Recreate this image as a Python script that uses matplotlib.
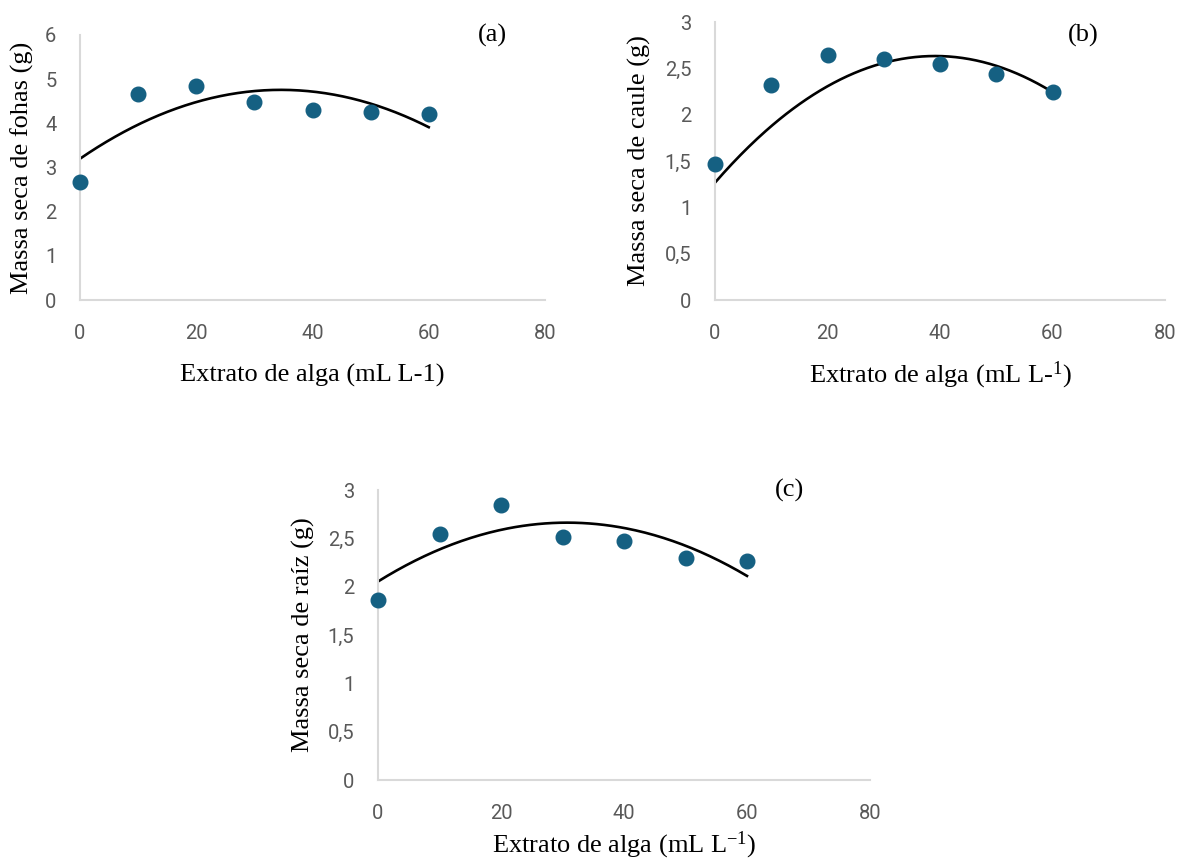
import numpy as np
import matplotlib.pyplot as plt
from matplotlib.ticker import FuncFormatter, MultipleLocator

plt.rcParams['mathtext.fontset'] = 'custom'
plt.rcParams['mathtext.rm'] = 'Liberation Serif'
plt.rcParams['mathtext.it'] = 'Liberation Serif:italic'

# doses of seaweed extract
extrato = [0, 10, 20, 30, 40, 50, 60]

# observed means
folhas = [2.67, 4.66, 4.85, 4.49, 4.31, 4.26, 4.22]
caule = [1.47, 2.32, 2.64, 2.60, 2.55, 2.44, 2.25]
raiz = [1.86, 2.55, 2.85, 2.51, 2.47, 2.30, 2.27]

# trendline readings at the same doses (quadratic trend in the original)
trend_folhas = [3.20, 3.97, 4.48, 4.73, 4.72, 4.45, 3.91]
trend_caule = [1.26, 1.88, 2.32, 2.55, 2.63, 2.52, 2.25]
trend_raiz = [2.05, 2.39, 2.59, 2.66, 2.60, 2.43, 2.11]

ylabels = ['Massa seca de fohas (g)', 'Massa seca de caule (g)', 'Massa seca de raíz (g)']
xlabels = ['Extrato de alga (mL L-1)', r'Extrato de alga (mL L-$^{1}$)', r'Extrato de alga (mL L$^{-1}$)']
tags = ['(a)', '(b)', '(c)']

W, H = 1186, 861
fig = plt.figure(figsize=(W / 100, H / 100), dpi=100)


def px_axes(x0, x1, ytop, ybot):
    return fig.add_axes([x0 / W, 1 - ybot / H, (x1 - x0) / W, (ybot - ytop) / H])


axes = [px_axes(80, 545, 35, 300), px_axes(715, 1165, 22, 300), px_axes(378, 870, 490, 780)]
ymax = [6, 3, 3]
ystep = [1, 0.5, 0.5]
obs = [folhas, caule, raiz]
trends = [trend_folhas, trend_caule, trend_raiz]
ylab_x = [-0.125, -0.167, -0.152]
xlab_y = [-0.283, -0.27, -0.226]
tag_pos = [(0.888, 1.0), (0.818, 0.953), (0.837, 1.0)]

serif = 'Liberation Serif'
fmt = FuncFormatter(lambda v, p: ('%g' % v).replace('.', ','))

for i, ax in enumerate(axes):
    coef = np.polyfit(extrato, trends[i], 2)
    xx = np.linspace(0, 60, 200)
    ax.plot(xx, np.polyval(coef, xx), color='black', lw=1.9, zorder=2)
    ax.plot(extrato, obs[i], 'o', color='#156082', ms=10.5, zorder=3, clip_on=False)

    ax.set_xlim(0, 80)
    ax.set_ylim(0, ymax[i])
    ax.xaxis.set_major_locator(MultipleLocator(20))
    ax.yaxis.set_major_locator(MultipleLocator(ystep[i]))
    ax.yaxis.set_major_formatter(fmt)
    for s in ['top', 'right']:
        ax.spines[s].set_visible(False)
    for s in ['left', 'bottom']:
        ax.spines[s].set_color('#d9d9d9')
        ax.spines[s].set_linewidth(1.5)
    ax.tick_params(length=0, labelsize=14.5, labelcolor='#595959', pad=17)
    for lab in ax.get_xticklabels() + ax.get_yticklabels():
        lab.set_fontfamily('Roboto')

    ax.set_ylabel(ylabels[i], fontsize=19, family=serif, va='center')
    ax.yaxis.set_label_coords(ylab_x[i], 0.5)
    ax.set_xlabel(xlabels[i], fontsize=19, family=serif, va='center')
    ax.xaxis.set_label_coords(0.5, xlab_y[i])
    ax.text(tag_pos[i][0], tag_pos[i][1], tags[i], transform=ax.transAxes,
            fontsize=19, family=serif, ha='center', va='center')

plt.savefig('out.png', dpi=100)
